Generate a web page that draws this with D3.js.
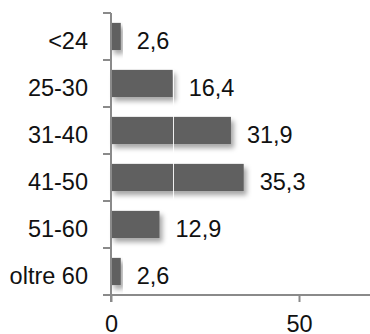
<!DOCTYPE html>
<html>
<head>
<meta charset="utf-8">
<script src="https://cdn.jsdelivr.net/npm/d3@7"></script>
<style>
  html, body { margin: 0; padding: 0; background: #fff; }
  svg { display: block; }
  text { font-family: "Liberation Sans", Arial, Helvetica, sans-serif; fill: #111; }
</style>
</head>
<body>
<svg id="chart" width="370" height="334"></svg>
<script>
// Age groups and their share (%)
const categories = ["<24", "25-30", "31-40", "41-50", "51-60", "oltre 60"];
const values = [2.6, 16.4, 31.9, 35.3, 12.9, 2.6];
const valueLabels = ["2,6", "16,4", "31,9", "35,3", "12,9", "2,6"];
const xTicks = [0, 50];

(function () {
const svg = d3.select("#chart");
const W = 370;
const plotLeft = 111, plotTop = 13, plotBottom = 295;
const fontSize = 23.5;

const x = d3.scaleLinear().domain([0, 70]).range([plotLeft, plotLeft + 70 * 3.76]);
const y = d3.scaleBand().domain(categories).range([plotTop, plotBottom])
  .paddingInner(0.42).paddingOuter(0.21);
const step = y.step();

// soft drop shadow under bars
const defs = svg.append("defs");
const f = defs.append("filter").attr("id", "shadow")
  .attr("x", "-10%").attr("y", "-20%").attr("width", "130%").attr("height", "170%");
f.append("feDropShadow").attr("dx", 3).attr("dy", 4).attr("stdDeviation", 2.6)
  .attr("flood-color", "#000").attr("flood-opacity", 0.35);

// bars
svg.append("g").selectAll("rect").data(categories).join("rect")
  .attr("x", x(0))
  .attr("y", d => y(d))
  .attr("width", (d, i) => x(values[i]) - x(0))
  .attr("height", y.bandwidth())
  .attr("fill", "#606060")
  .attr("filter", "url(#shadow)");

// thin white reference line at the 25-30 value
svg.append("line")
  .attr("x1", Math.round(x(values[1])) + 0.5).attr("x2", Math.round(x(values[1])) + 0.5)
  .attr("y1", plotTop).attr("y2", plotBottom)
  .attr("stroke", "#fff").attr("stroke-width", 1).attr("opacity", 0.9);

// value labels
svg.append("g").selectAll("text").data(categories).join("text")
  .attr("x", (d, i) => x(values[i]) + 16)
  .attr("y", d => y(d) + y.bandwidth() / 2 + 12)
  .attr("font-size", fontSize)
  .text((d, i) => valueLabels[i]);

// category labels
svg.append("g").selectAll("text").data(categories).join("text")
  .attr("x", 88)
  .attr("y", d => y(d) + y.bandwidth() / 2 + 12)
  .attr("text-anchor", "end")
  .attr("font-size", fontSize)
  .text(d => d);

const axisColor = "#8a8a8a";

// vertical axis with ticks at band boundaries
const yAxis = svg.append("g");
yAxis.append("line")
  .attr("x1", x(0)).attr("x2", x(0))
  .attr("y1", plotTop).attr("y2", plotBottom + 7)
  .attr("stroke", axisColor).attr("stroke-width", 2);
yAxis.selectAll("line.tick").data(d3.range(categories.length + 1)).join("line")
  .attr("class", "tick")
  .attr("x1", x(0) - 8).attr("x2", x(0))
  .attr("y1", i => plotTop + i * step).attr("y2", i => plotTop + i * step)
  .attr("stroke", axisColor).attr("stroke-width", 2);

// horizontal axis
const xAxis = d3.axisBottom(x).tickValues(xTicks).tickSize(7).tickPadding(13)
  .tickFormat(d3.format("d"));
const gx = svg.append("g").attr("transform", `translate(0,${plotBottom})`).call(xAxis);
gx.select(".domain").attr("d", `M${x(0) - 8},0H${W}`).attr("stroke", axisColor).attr("stroke-width", 2);
gx.selectAll(".tick line").attr("stroke", axisColor).attr("stroke-width", 2);
gx.selectAll(".tick text").attr("font-size", fontSize).attr("fill", "#111")
  .attr("font-family", "Liberation Sans, Arial, sans-serif");
})();
</script>
</body>
</html>
